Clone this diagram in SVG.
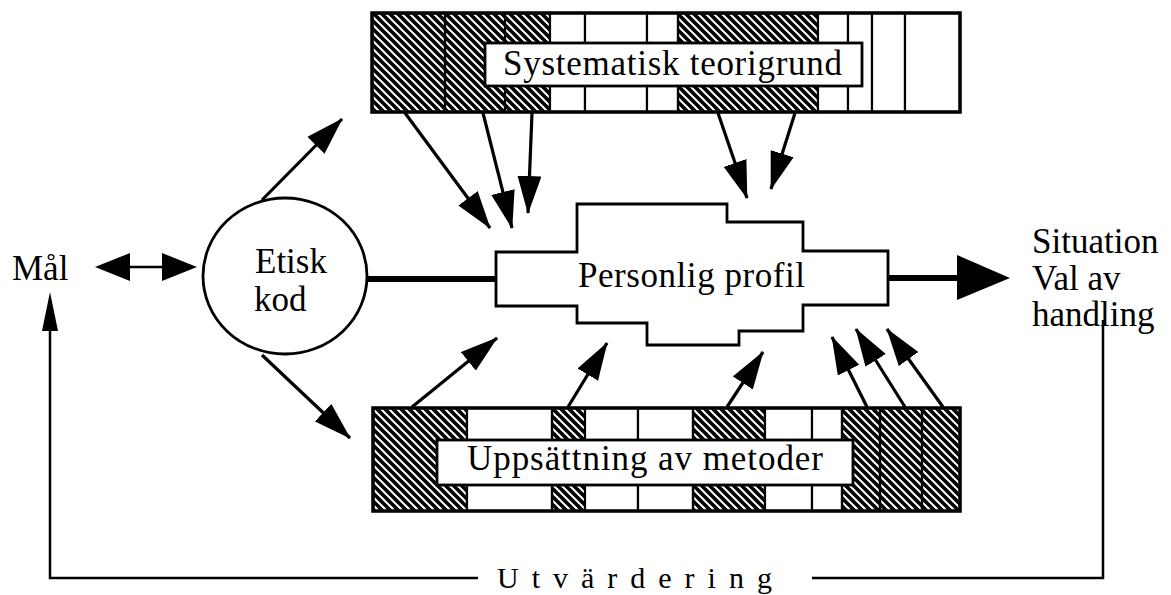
<svg xmlns="http://www.w3.org/2000/svg" width="1171" height="595" viewBox="0 0 1171 595">
<defs>
<pattern id="hatch" patternUnits="userSpaceOnUse" width="8" height="8">
<path d="M-1,-1 L9,9 M-1,7 L1,9 M7,-1 L9,1" stroke="#000" stroke-width="3.7"/>
</pattern>
<marker id="ah" markerUnits="userSpaceOnUse" viewBox="0 0 38 24" markerWidth="38" markerHeight="24" refX="37" refY="12" orient="auto">
<path d="M0,0 L38,12 L0,24 Z" fill="#000"/>
</marker>
<style>
.t{font-family:"Liberation Serif","Times New Roman",serif;font-size:35px;fill:#000}
.h{fill:url(#hatch);stroke:#000;stroke-width:2.2}
.w{fill:#fff;stroke:#000;stroke-width:2.2}
.frame{fill:none;stroke:#000;stroke-width:3.5}
.lab{fill:#fff;stroke:#000;stroke-width:2.8}
.arr{stroke:#000;stroke-width:3.2;fill:none;marker-end:url(#ah)}
.ln{stroke:#000;stroke-width:2.5;fill:none}
.thick{stroke:#000;stroke-width:6;fill:none}
</style>
</defs>
<rect width="1171" height="595" fill="#fff"/>

<g id="systematisk">
<rect class="h" x="372" y="13" width="73" height="99"/>
<rect class="h" x="445" y="13" width="60" height="99"/>
<rect class="h" x="505" y="13" width="45" height="99"/>
<rect class="w" x="550" y="13" width="35" height="99"/>
<rect class="w" x="585" y="13" width="62" height="99"/>
<rect class="w" x="647" y="13" width="31" height="99"/>
<rect class="h" x="678" y="13" width="140" height="99"/>
<rect class="w" x="818" y="13" width="30" height="99"/>
<rect class="w" x="848" y="13" width="24" height="99"/>
<rect class="w" x="872" y="13" width="33" height="99"/>
<rect class="w" x="905" y="13" width="55" height="99"/>
<rect class="frame" x="372" y="13" width="588" height="99"/>
<rect class="lab" x="485" y="43" width="377" height="43"/>
<text class="t" x="503" y="75" textLength="339" lengthAdjust="spacing">Systematisk teorigrund</text>
</g>

<g id="metoder">
<rect class="h" x="373" y="408" width="94" height="103"/>
<rect class="w" x="467" y="408" width="85" height="103"/>
<rect class="h" x="552" y="408" width="33" height="103"/>
<rect class="w" x="585" y="408" width="53" height="103"/>
<rect class="w" x="638" y="408" width="55" height="103"/>
<rect class="h" x="693" y="408" width="72" height="103"/>
<rect class="w" x="765" y="408" width="47" height="103"/>
<rect class="w" x="812" y="408" width="30" height="103"/>
<rect class="h" x="842" y="408" width="38" height="103"/>
<rect class="h" x="880" y="408" width="42" height="103"/>
<rect class="h" x="922" y="408" width="38" height="103"/>
<rect class="frame" x="373" y="408" width="587" height="103"/>
<rect class="lab" x="437" y="440" width="416" height="45"/>
<text class="t" x="467" y="470" textLength="356" lengthAdjust="spacing">Uppsättning av metoder</text>
</g>

<g id="profil">
<path d="M496,252 H577 V204 H727 V222 H803 V251 H888 V305 H803 V331 H739 V345 H647 V323 H577 V306 H496 Z" fill="#fff" stroke="#000" stroke-width="2.8"/>
<text class="t" x="578" y="287" textLength="227" lengthAdjust="spacing">Personlig profil</text>
</g>

<g id="etisk">
<ellipse cx="285" cy="276" rx="82" ry="78" fill="#fff" stroke="#000" stroke-width="2.8"/>
<text class="t" x="255" y="273">Etisk</text>
<text class="t" x="254" y="311">kod</text>
</g>

<g id="mal">
<text class="t" x="12" y="280">Mål</text>
</g>

<g id="situation">
<text class="t" x="1032" y="253">Situation</text>
<text class="t" x="1032" y="290">Val av</text>
<text class="t" x="1032" y="326">handling</text>
</g>

<g id="connectors">
<line class="ln" x1="125" y1="267" x2="167" y2="267" stroke-width="3"/>
<polygon points="95,267 130,253 130,281" fill="#000"/>
<polygon points="197,267 162,253 162,281" fill="#000"/>
<line class="arr" x1="262" y1="200" x2="342" y2="119"/>
<line class="arr" x1="262" y1="355" x2="350" y2="438"/>
<line class="thick" x1="366" y1="279" x2="496" y2="279"/>
<line class="thick" x1="888" y1="278" x2="960" y2="278"/>
<polygon points="957,255 1010,278 957,300" fill="#000"/>
<line class="arr" x1="405" y1="113" x2="490" y2="228"/>
<line class="arr" x1="483" y1="113" x2="512" y2="228"/>
<line class="arr" x1="532" y1="113" x2="528" y2="213"/>
<line class="arr" x1="718" y1="113" x2="747" y2="198"/>
<line class="arr" x1="795" y1="113" x2="771" y2="189"/>
<line class="arr" x1="412" y1="407" x2="497" y2="338"/>
<line class="arr" x1="568" y1="407" x2="607" y2="343"/>
<line class="arr" x1="727" y1="407" x2="763" y2="352"/>
<line class="arr" x1="867" y1="407" x2="832" y2="337"/>
<line class="arr" x1="905" y1="407" x2="856" y2="329"/>
<line class="arr" x1="943" y1="407" x2="887" y2="329"/>
<polyline class="ln" points="1103,320 1103,578 812,578"/>
<polyline class="ln" points="478,578 50,578 50,325"/>
<polygon points="50,292 42,331 58,331" fill="#000"/>
<text x="497" y="588" style="font-family:'Liberation Serif','Times New Roman',serif;font-size:30px;letter-spacing:13px">Utvärdering</text>
</g>
</svg>
